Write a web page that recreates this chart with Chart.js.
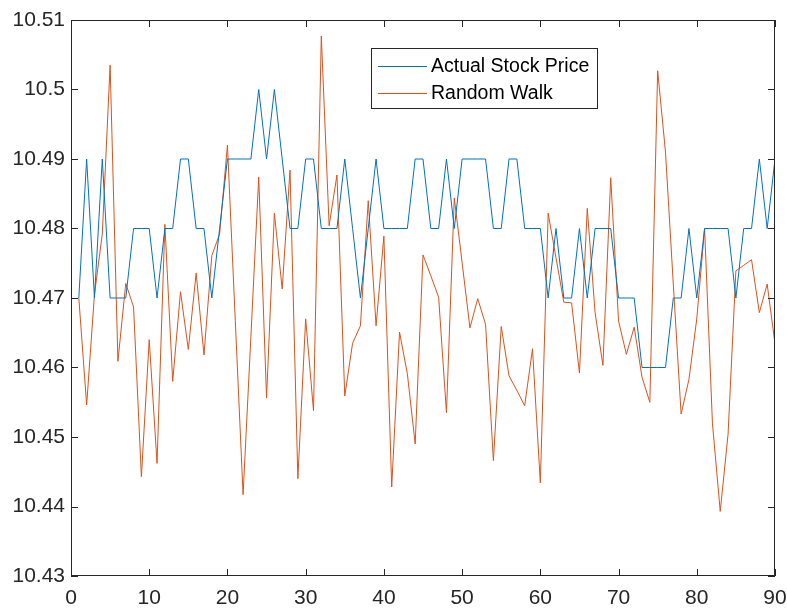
<!DOCTYPE html>
<html>
<head>
<meta charset="utf-8">
<script src="https://cdn.jsdelivr.net/npm/chart.js@4/dist/chart.umd.min.js"></script>
<style>
  html, body { margin: 0; padding: 0; background: #ffffff; }
  #wrap { width: 787px; height: 610px; }
</style>
</head>
<body>
<div id="wrap"><canvas id="c" width="787" height="610"></canvas></div>
<script>
// Daily closing price (rounded to the cent) and a simulated random walk, days 1..90
const actualPrice = [
  10.47, 10.49, 10.47, 10.49, 10.47, 10.47, 10.47, 10.48, 10.48, 10.48,
  10.47, 10.48, 10.48, 10.49, 10.49, 10.48, 10.48, 10.47, 10.48, 10.49,
  10.49, 10.49, 10.49, 10.50, 10.49, 10.50, 10.49, 10.48, 10.48, 10.49,
  10.49, 10.48, 10.48, 10.48, 10.49, 10.48, 10.47, 10.48, 10.49, 10.48,
  10.48, 10.48, 10.48, 10.49, 10.49, 10.48, 10.48, 10.49, 10.48, 10.49,
  10.49, 10.49, 10.49, 10.48, 10.48, 10.49, 10.49, 10.48, 10.48, 10.48,
  10.47, 10.48, 10.47, 10.47, 10.48, 10.47, 10.48, 10.48, 10.48, 10.47,
  10.47, 10.47, 10.46, 10.46, 10.46, 10.46, 10.47, 10.47, 10.48, 10.47,
  10.48, 10.48, 10.48, 10.48, 10.47, 10.48, 10.48, 10.49, 10.48, 10.49
];

const randomWalk = [
  10.4700, 10.4546, 10.4705, 10.4792, 10.5035, 10.4609, 10.4721, 10.4687, 10.4443, 10.4640,
  10.4462, 10.4806, 10.4580, 10.4709, 10.4626, 10.4736, 10.4618, 10.4761, 10.4792, 10.4920,
  10.4668, 10.4417, 10.4645, 10.4874, 10.4556, 10.4822, 10.4713, 10.4884, 10.4440, 10.4670,
  10.4538, 10.5077, 10.4804, 10.4877, 10.4559, 10.4635, 10.4660, 10.4840, 10.4660, 10.4789,
  10.4428, 10.4651, 10.4591, 10.4490, 10.4762, 10.4732, 10.4701, 10.4535, 10.4844, 10.4751,
  10.4657, 10.4699, 10.4662, 10.4466, 10.4659, 10.4588, 10.4567, 10.4545, 10.4627, 10.4434,
  10.4822, 10.4758, 10.4694, 10.4693, 10.4592, 10.4829, 10.4679, 10.4603, 10.4873, 10.4667,
  10.4619, 10.4658, 10.4586, 10.4550, 10.5027, 10.4910, 10.4720, 10.4533, 10.4583, 10.4670,
  10.4800, 10.4520, 10.4393, 10.4504, 10.4739, 10.4747, 10.4755, 10.4679, 10.4720, 10.4634
];

const seriesNames = ['Actual Stock Price', 'Random Walk'];

const xTickValues = [0, 10, 20, 30, 40, 50, 60, 70, 80, 90];
const yTickValues = [10.43, 10.44, 10.45, 10.46, 10.47, 10.48, 10.49, 10.50, 10.51];
const yTickLabels = ['10.43', '10.44', '10.45', '10.46', '10.47', '10.48', '10.49', '10.5', '10.51'];

const BLUE = '#0072BD';
const ORANGE = '#D95319';
const AXIS = '#262626';
const FONT = '"Liberation Sans", Arial, Helvetica, sans-serif';

const toPoints = arr => arr.map((v, i) => ({ x: i + 1, y: v }));

// Box around the axes with inward tick marks, plus the boxed legend
const axesBox = {
  id: 'axesBox',
  afterDatasetsDraw(chart) {
    const { ctx, chartArea: a, scales } = chart;
    const tick = 7;
    ctx.save();
    ctx.strokeStyle = AXIS;
    ctx.lineWidth = 1;
    ctx.beginPath();
    xTickValues.forEach(v => {
      const px = Math.round(scales.x.getPixelForValue(v)) + 0.5;
      ctx.moveTo(px, a.bottom); ctx.lineTo(px, a.bottom - tick);
      ctx.moveTo(px, a.top);    ctx.lineTo(px, a.top + tick);
    });
    yTickValues.forEach(v => {
      const py = Math.round(scales.y.getPixelForValue(v)) + 0.5;
      ctx.moveTo(a.left, py);  ctx.lineTo(a.left + tick, py);
      ctx.moveTo(a.right, py); ctx.lineTo(a.right - tick, py);
    });
    ctx.stroke();
    ctx.strokeRect(Math.round(a.left) + 0.5, Math.round(a.top) + 0.5,
                   Math.round(a.right - a.left) - 1, Math.round(a.bottom - a.top) - 1);

    // legend
    const lx = 371.5, ly = 48.5, lw = 226, lh = 60;
    ctx.fillStyle = '#ffffff';
    ctx.fillRect(lx, ly, lw, lh);
    ctx.strokeStyle = AXIS;
    ctx.strokeRect(lx, ly, lw, lh);
    ctx.font = '19.5px ' + FONT;
    ctx.textBaseline = 'middle';
    ctx.textAlign = 'left';
    chart.data.datasets.forEach((ds, i) => {
      const cy = 65.5 + i * 27.5;
      ctx.strokeStyle = ds.borderColor;
      ctx.lineWidth = 1;
      ctx.beginPath();
      ctx.moveTo(378, Math.round(cy) + 0.5);
      ctx.lineTo(427, Math.round(cy) + 0.5);
      ctx.stroke();
      ctx.fillStyle = '#000000';
      ctx.fillText(ds.label, 431, cy + 1);
    });
    ctx.restore();
  }
};

new Chart(document.getElementById('c'), {
  type: 'line',
  data: {
    datasets: [
      { label: seriesNames[0], data: toPoints(actualPrice), borderColor: BLUE, backgroundColor: BLUE,
        borderWidth: 1, pointRadius: 0, tension: 0, fill: false },
      { label: seriesNames[1], data: toPoints(randomWalk), borderColor: ORANGE, backgroundColor: ORANGE,
        borderWidth: 1, pointRadius: 0, tension: 0, fill: false }
    ]
  },
  options: {
    responsive: false,
    animation: false,
    devicePixelRatio: 1,
    layout: { padding: { top: 20, right: 12, left: 0, bottom: 0 } },
    plugins: { legend: { display: false }, tooltip: { enabled: false } },
    scales: {
      x: {
        type: 'linear', min: 0, max: 90,
        border: { display: false },
        grid: { display: false, drawTicks: false },
        afterBuildTicks: s => { s.ticks = xTickValues.map(v => ({ value: v })); },
        afterFit: s => { s.height = 34; s.paddingLeft = 0; s.paddingRight = 0; },
        ticks: { color: AXIS, font: { family: FONT, size: 21 }, padding: 10,
                 maxRotation: 0, autoSkip: false, callback: v => String(v) }
      },
      y: {
        type: 'linear', min: 10.43, max: 10.51,
        border: { display: false },
        grid: { display: false, drawTicks: false },
        afterBuildTicks: s => { s.ticks = yTickValues.map(v => ({ value: v })); },
        afterFit: s => { s.width = 71; s.paddingTop = 0; s.paddingBottom = 0; },
        ticks: { color: AXIS, font: { family: FONT, size: 21 }, padding: 6,
                 autoSkip: false, callback: (v, i) => yTickLabels[i] }
      }
    }
  },
  plugins: [axesBox]
});
</script>
</body>
</html>
